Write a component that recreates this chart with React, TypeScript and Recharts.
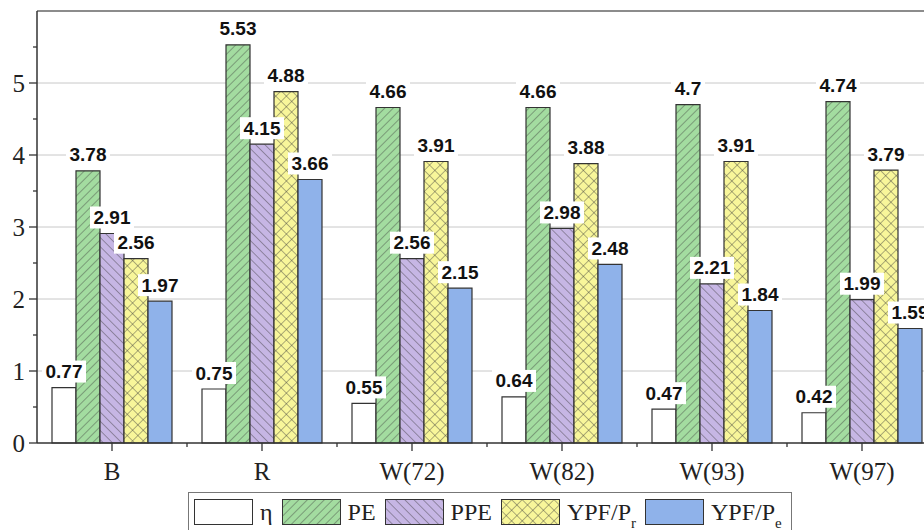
import { Bar, BarChart, CartesianGrid, LabelList, Legend, ReferenceLine, XAxis, YAxis } from "recharts";

const categories = ["B", "R", "W(72)", "W(82)", "W(93)", "W(97)"];
const eta = [0.77, 0.75, 0.55, 0.64, 0.47, 0.42];
const pe = [3.78, 5.53, 4.66, 4.66, 4.7, 4.74];
const ppe = [2.91, 4.15, 2.56, 2.98, 2.21, 1.99];
const ypfPr = [2.56, 4.88, 3.91, 3.88, 3.91, 3.79];
const ypfPe = [1.97, 3.66, 2.15, 2.48, 1.84, 1.59];
const yTicks = [0, 0.5, 1, 1.5, 2, 2.5, 3, 3.5, 4, 4.5, 5, 5.5];
const gridValues = [1, 2, 3, 4, 5];

const data = categories.map((name, i) => ({
  name,
  eta: eta[i],
  pe: pe[i],
  ppe: ppe[i],
  ypfPr: ypfPr[i],
  ypfPe: ypfPe[i],
}));

const GREEN = "#a3dca0";
const PURPLE = "#c6b6e4";
const YELLOW = "#f8f69a";
const BLUE = "#8fb2ea";
const EDGE = "#333";
const HATCH = "#3a3a3a";
const SERIF = '"Liberation Serif", "Times New Roman", serif';
const SANS = '"Liberation Sans", Arial, sans-serif';

// hatch fills, shared by the bars and the legend swatches
function Hatches({ prefix }: { prefix: string }) {
  return (
    <defs>
      <pattern id={prefix + "pe"} width="6" height="6" patternUnits="userSpaceOnUse" patternTransform="rotate(45)">
        <rect width="6" height="6" fill={GREEN} />
        <line x1="0" y1="0" x2="0" y2="6" stroke={HATCH} strokeWidth="0.8" />
      </pattern>
      <pattern id={prefix + "ppe"} width="6.5" height="6.5" patternUnits="userSpaceOnUse" patternTransform="rotate(-45)">
        <rect width="6.5" height="6.5" fill={PURPLE} />
        <line x1="0" y1="0" x2="0" y2="6.5" stroke={HATCH} strokeWidth="0.8" />
      </pattern>
      <pattern id={prefix + "pr"} width="7.5" height="7.5" patternUnits="userSpaceOnUse" patternTransform="rotate(45)">
        <rect width="7.5" height="7.5" fill={YELLOW} />
        <line x1="0" y1="0" x2="0" y2="7.5" stroke={HATCH} strokeWidth="0.8" />
        <line x1="0" y1="0" x2="7.5" y2="0" stroke={HATCH} strokeWidth="0.8" />
      </pattern>
    </defs>
  );
}

function ValueLabel(props: any) {
  const { x, y, width, value } = props;
  const cx = Number(x) + Number(width) / 2;
  const cy = Number(y) - 16;
  const text = String(value);
  const w = text.length * 10 + 4;
  return (
    <g>
      <rect x={cx - w / 2} y={cy - 11} width={w} height={22} fill="#fff" />
      <text
        x={cx}
        y={cy}
        textAnchor="middle"
        dominantBaseline="central"
        fontFamily={SANS}
        fontWeight="bold"
        fontSize={19}
        fill="#111"
      >
        {text}
      </text>
    </g>
  );
}

function YTick(props: any) {
  const { x, y, payload } = props;
  const axisX = Number(x) + 12;
  const v = payload.value;
  const major = Number.isInteger(v);
  return (
    <g>
      <line x1={axisX - (major ? 8 : 4)} y1={y} x2={axisX} y2={y} stroke={EDGE} strokeWidth={1.3} />
      {major && (
        <text x={axisX - 12} y={y} textAnchor="end" dominantBaseline="central" fontFamily={SERIF} fontSize={25} fill="#222">
          {v}
        </text>
      )}
    </g>
  );
}

function XTick(props: any) {
  const { x, y, payload } = props;
  const axisY = Number(y) - 8;
  const half = payload.offset || 75;
  return (
    <g>
      <line x1={x} y1={axisY} x2={x} y2={axisY + 8} stroke={EDGE} strokeWidth={1.3} />
      <line x1={x + half} y1={axisY} x2={x + half} y2={axisY + 4} stroke={EDGE} strokeWidth={1.3} />
      <text x={x} y={axisY + 28} textAnchor="middle" dominantBaseline="central" fontFamily={SERIF} fontSize={25} fill="#222">
        {payload.value}
      </text>
    </g>
  );
}

function Swatch({ fill }: { fill: string }) {
  return (
    <svg width={59} height={26} style={{ display: "block" }}>
      <Hatches prefix="lg-" />
      <rect x={0.5} y={0.5} width={58} height={25} fill={fill} stroke={EDGE} strokeWidth={1} />
    </svg>
  );
}

const sub = { fontSize: 15, position: "relative" as const, top: 8 };

function LegendBox() {
  const item = (fill: string, label: any) => (
    <div style={{ display: "flex", alignItems: "center", marginRight: 9 }}>
      <Swatch fill={fill} />
      <span style={{ marginLeft: 7 }}>{label}</span>
    </div>
  );
  return (
    <div
      style={{
        display: "flex",
        alignItems: "center",
        border: "1px solid #777",
        height: 38,
        padding: "0 0 0 5px",
        background: "#fff",
        fontFamily: SERIF,
        fontSize: 24,
        color: "#222",
        whiteSpace: "nowrap",
      }}
    >
      {item("#fff", "η")}
      {item("url(#lg-pe)", "PE")}
      {item("url(#lg-ppe)", "PPE")}
      {item("url(#lg-pr)", <>YPF/P<span style={sub}>r</span></>)}
      {item(BLUE, <>YPF/P<span style={sub}>e</span></>)}
    </div>
  );
}

export default function App() {
  return (
    <div style={{ position: "fixed", left: 0, top: 0, width: 924, height: 530, overflow: "hidden", background: "#fff" }}>
      <BarChart
        width={960}
        height={530}
        data={data}
        margin={{ top: 11, right: 23, left: 0, bottom: 47 }}
        barCategoryGap="10%"
        barGap={0}
      >
        <Hatches prefix="" />
        <CartesianGrid vertical={false} horizontalValues={gridValues} stroke="#c8c8c8" />
        <ReferenceLine y={6} stroke="#666" strokeWidth={1.3} />
        <XAxis
          dataKey="name"
          height={40}
          tickLine={false}
          tickSize={8}
          tickMargin={0}
          interval={0}
          stroke={EDGE}
          strokeWidth={1.5}
          tick={<XTick />}
        />
        <YAxis
          width={37}
          domain={[0, 6]}
          ticks={yTicks}
          interval={0}
          tickLine={false}
          tickSize={7}
          tickMargin={5}
          stroke={EDGE}
          strokeWidth={1.5}
          tick={<YTick />}
        />
        <Legend
          layout="horizontal"
          verticalAlign="middle"
          align="center"
          wrapperStyle={{ left: 188, top: 492, width: "auto", height: "auto" }}
          content={() => <LegendBox />}
        />
        <Bar dataKey="eta" fill="#fff" stroke={EDGE} strokeWidth={1.2} isAnimationActive={false}>
          <LabelList dataKey="eta" content={<ValueLabel />} />
        </Bar>
        <Bar dataKey="pe" fill="url(#pe)" stroke={EDGE} strokeWidth={1.2} isAnimationActive={false}>
          <LabelList dataKey="pe" content={<ValueLabel />} />
        </Bar>
        <Bar dataKey="ppe" fill="url(#ppe)" stroke={EDGE} strokeWidth={1.2} isAnimationActive={false}>
          <LabelList dataKey="ppe" content={<ValueLabel />} />
        </Bar>
        <Bar dataKey="ypfPr" fill="url(#pr)" stroke={EDGE} strokeWidth={1.2} isAnimationActive={false}>
          <LabelList dataKey="ypfPr" content={<ValueLabel />} />
        </Bar>
        <Bar dataKey="ypfPe" fill={BLUE} stroke={EDGE} strokeWidth={1.2} isAnimationActive={false}>
          <LabelList dataKey="ypfPe" content={<ValueLabel />} />
        </Bar>
      </BarChart>
    </div>
  );
}
